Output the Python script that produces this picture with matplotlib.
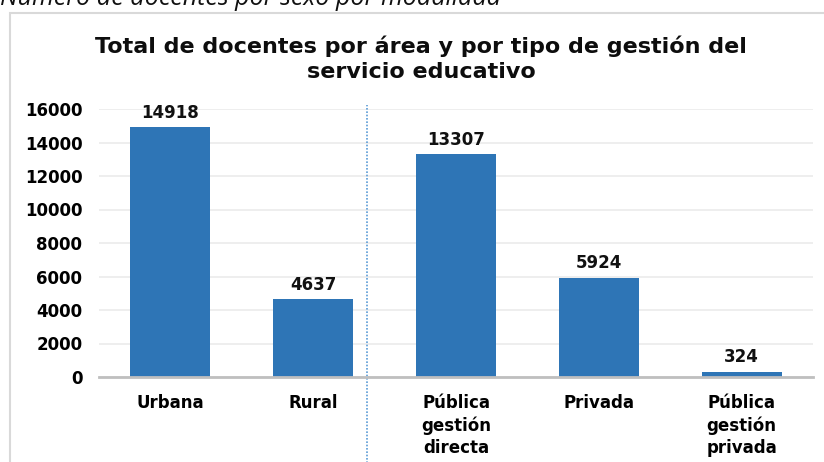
import matplotlib.pyplot as plt
from matplotlib.patches import Rectangle
import numpy as np

categories = ['Urbana', 'Rural', 'Pública\ngestión\ndirecta', 'Privada',
              'Pública\ngestión\nprivada']
values = [14918, 4637, 13307, 5924, 324]
yticks = [0, 2000, 4000, 6000, 8000, 10000, 12000, 14000, 16000]

plt.rcParams['font.family'] = ['DejaVu Sans']

fig = plt.figure(figsize=(8.24, 4.62), dpi=100)
ax = fig.add_axes([99 / 824, 1 - 377 / 462, (813 - 99) / 824, (377 - 109) / 462])

x = np.arange(len(categories))
ax.bar(x, values, width=0.56, color='#2E75B6', zorder=3)

for xi, v in zip(x, values):
    ax.annotate(str(v), (xi, v), xytext=(0, 4), textcoords='offset points',
                ha='center', va='bottom', fontsize=12, fontweight='bold',
                color='#111111')

ax.set_xlim(-0.5, len(categories) - 0.5)
ax.set_ylim(0, 16000)
ax.set_yticks(yticks)
ax.set_yticklabels([str(t) for t in yticks], fontsize=12, fontweight='bold')
ax.set_xticks(x)
ax.set_xticklabels(categories, fontsize=12, fontweight='bold', linespacing=1.3)
ax.tick_params(axis='both', length=0)
ax.tick_params(axis='x', pad=12)
ax.tick_params(axis='y', pad=12)

ax.grid(axis='y', color='#EBEBEB', linewidth=1.2, zorder=0)
for side in ['top', 'right', 'left']:
    ax.spines[side].set_visible(False)
ax.spines['bottom'].set_color('#BFBFBF')
ax.spines['bottom'].set_linewidth(2)
ax.spines['bottom'].set_zorder(4)

# separador entre área y tipo de gestión
ax.axvline(1.38, ymin=-0.35, ymax=1.015, color='#5B9BD5', linestyle=(0, (1, 1)),
           linewidth=1.2, clip_on=False)

ax.set_title('Total de docentes por área y por tipo de gestión del\nservicio educativo',
             fontsize=16, fontweight='bold', color='#0D0D0D', pad=22,
             linespacing=1.35, x=(421 - 99) / (813 - 99))

# marco del gráfico
fig.patches.append(Rectangle((10 / 824, -0.1), 1.0, 1 - 13 / 462 + 0.1,
                             transform=fig.transFigure, fill=False,
                             edgecolor='#D9D9D9', linewidth=1.5))

fig.text(0.0, 1 - 5 / 462, 'Número de docentes por sexo por modalidad',
         fontsize=18, style='italic', family='Open Sans', va='baseline',
         ha='left', color='#111111')

fig.savefig('out.png', dpi=100)
